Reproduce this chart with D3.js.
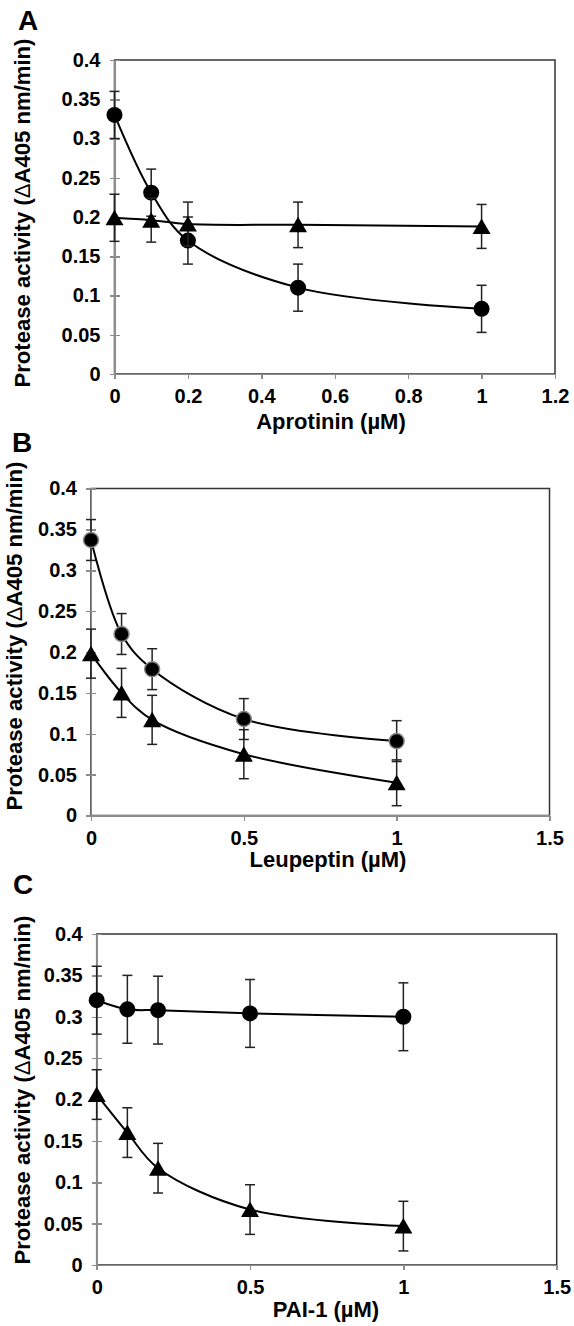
<!doctype html>
<html>
<head>
<meta charset="utf-8">
<script src="https://d3js.org/d3.v7.min.js"></script>
<style>
  body { margin: 0; background: #fff; }
  svg { display: block; font-family: "Liberation Sans", Arial, sans-serif; font-weight: bold; }
  .tick text { font-size: 20px; fill: #000; }
  .axis path, .axis line { stroke: #8c8c8c; stroke-width: 1.5px; shape-rendering: crispEdges; }
  .err { stroke: #222; stroke-width: 1.5px; fill: none; }
  .curve { stroke: #000; stroke-width: 2px; fill: none; }
</style>
</head>
<body>
<svg id="fig" width="574" height="1326"></svg>
<script>
// shared
var conc = [0, 0.1, 0.2, 0.5, 1];
var yTicks = [0, 0.05, 0.1, 0.15, 0.2, 0.25, 0.3, 0.35, 0.4];
var yTickLabels = ['0', '0.05', '0.1', '0.15', '0.2', '0.25', '0.3', '0.35', '0.4'];
var yTitle = 'Protease activity (';

// panel A - aprotinin
var xTicksA = [0, 0.2, 0.4, 0.6, 0.8, 1, 1.2];
var xTickLabelsA = ['0', '0.2', '0.4', '0.6', '0.8', '1', '1.2'];
var circA = [0.33, 0.231, 0.17, 0.11, 0.083];
var circErrA = [0.03, 0.03, 0.03, 0.03, 0.03];
var triA = [0.199, 0.196, 0.191, 0.19, 0.188];
var triErrA = [0.03, 0.028, 0.028, 0.029, 0.028];

// panel B - leupeptin
var xTicksBC = [0, 0.5, 1, 1.5];
var xTickLabelsBC = ['0', '0.5', '1', '1.5'];
var circB = [0.337, 0.222, 0.179, 0.118, 0.091];
var circErrB = [0.025, 0.025, 0.025, 0.025, 0.025];
var triB = [0.198, 0.15, 0.117, 0.075, 0.04];
var triErrB = [0.03, 0.03, 0.03, 0.03, 0.028];

// panel C - PAI-1
var circC = [0.32, 0.309, 0.308, 0.304, 0.3];
var circErrC = [0.041, 0.041, 0.041, 0.041, 0.041];
var triC = [0.206, 0.16, 0.117, 0.067, 0.047];
var triErrC = [0.03, 0.03, 0.03, 0.03, 0.03];

var svg = d3.select('#fig');

var panels = [
  {letter: 'A', lx: 18, ly: 30, left: 114.5, right: 555, top: 60, bottom: 374, xMax: 1.2,
   xTicks: xTicksA, xLabels: xTickLabelsA, xTitle: 'Aprotinin (\u00b5M)', xtx: 331, xty: 429,
   ytx: 30, yty: 213, circ: circA, circErr: circErrA, tri: triA, triErr: triErrA, ring: false},
  {letter: 'B', lx: 12, ly: 452, left: 91, right: 549.5, top: 488.5, bottom: 815.5, xMax: 1.5,
   xTicks: xTicksBC, xLabels: xTickLabelsBC, xTitle: 'Leupeptin (\u00b5M)', xtx: 328, xty: 867,
   ytx: 22, yty: 636, circ: circB, circErr: circErrB, tri: triB, triErr: triErrB, ring: true},
  {letter: 'C', lx: 13, ly: 894, left: 96.7, right: 556.7, top: 934, bottom: 1265, xMax: 1.5,
   xTicks: xTicksBC, xLabels: xTickLabelsBC, xTitle: 'PAI-1 (\u00b5M)', xtx: 326, xty: 1317,
   ytx: 30, yty: 1090, circ: circC, circErr: circErrC, tri: triC, triErr: triErrC, ring: false}
];

panels.forEach(function(p){ drawPanel(p); });

function drawPanel(p){
  var x = d3.scaleLinear().domain([0, p.xMax]).range([p.left, p.right]);
  var y = d3.scaleLinear().domain([0, 0.4]).range([p.bottom, p.top]);

  // panel letter
  svg.append('text').attr('x', p.lx).attr('y', p.ly)
    .style('font-size', '28px').text(p.letter);

  // plot area border
  svg.append('rect').attr('x', x(0)).attr('y', y(0.4))
    .attr('width', x(p.xMax) - x(0)).attr('height', y(0) - y(0.4))
    .attr('fill', 'none').attr('stroke', '#333').attr('stroke-width', 1.5);

  // axes
  var yAxis = d3.axisLeft(y).tickValues(yTicks).tickSizeInner(5).tickSizeOuter(0).tickPadding(9)
    .tickFormat(function(d, i){ return yTickLabels[i]; });
  var gy = svg.append('g').attr('class', 'axis').attr('transform', 'translate(' + x(0) + ',0)').call(yAxis);
  gy.selectAll('.tick line').attr('x1', 5);   // ticks cross the axis
  var xAxis = d3.axisBottom(x).tickValues(p.xTicks).tickSizeInner(5).tickSizeOuter(0).tickPadding(10)
    .tickFormat(function(d, i){ return p.xLabels[i]; });
  svg.append('g').attr('class', 'axis').attr('transform', 'translate(0,' + y(0) + ')').call(xAxis);
  svg.selectAll('.axis').attr('font-family', null).attr('font-size', null);

  // titles
  svg.append('text').attr('x', p.xtx).attr('y', p.xty).attr('text-anchor', 'middle')
    .style('font-size', '22px').text(p.xTitle);
  var yt = svg.append('text').attr('transform', 'translate(' + p.ytx + ',' + p.yty + ') rotate(-90)')
    .attr('text-anchor', 'middle').style('font-size', '22px')
    .attr('textLength', 349).attr('lengthAdjust', 'spacingAndGlyphs');
  yt.append('tspan').text(yTitle);
  yt.append('tspan').style('font-weight', 'normal').text('\u0394');
  yt.append('tspan').text('A405 nm/min)');

  var series = [
    {vals: p.circ, err: p.circErr, shape: 'circle'},
    {vals: p.tri, err: p.triErr, shape: 'tri'}
  ];

  var line = d3.line().x(function(d){ return x(d[0]); }).y(function(d){ return y(d[1]); })
    .curve(d3.curveCatmullRom.alpha(0.5));

  series.forEach(function(s){
    var pts = conc.map(function(c, i){ return [c, s.vals[i], s.err[i]]; });
    var g = svg.append('g');
    // error bars
    var eb = g.selectAll('g.eb').data(pts).enter().append('g').attr('class', 'err');
    eb.append('line').attr('x1', function(d){ return x(d[0]); }).attr('x2', function(d){ return x(d[0]); })
      .attr('y1', function(d){ return y(d[1] + d[2]); }).attr('y2', function(d){ return y(d[1] - d[2]); });
    eb.append('line').attr('x1', function(d){ return x(d[0]) - 5; }).attr('x2', function(d){ return x(d[0]) + 5; })
      .attr('y1', function(d){ return y(d[1] + d[2]); }).attr('y2', function(d){ return y(d[1] + d[2]); });
    eb.append('line').attr('x1', function(d){ return x(d[0]) - 5; }).attr('x2', function(d){ return x(d[0]) + 5; })
      .attr('y1', function(d){ return y(d[1] - d[2]); }).attr('y2', function(d){ return y(d[1] - d[2]); });
    // smoothed line
    g.append('path').attr('class', 'curve').attr('d', line(pts));
    // markers
    if (s.shape === 'circle') {
      g.selectAll('circle').data(pts).enter().append('circle')
        .attr('cx', function(d){ return x(d[0]); }).attr('cy', function(d){ return y(d[1]); })
        .attr('r', p.ring ? 7.5 : 8).attr('fill', '#000')
        .attr('stroke', p.ring ? '#888' : 'none').attr('stroke-width', 1.5);
    } else {
      g.selectAll('path.tri').data(pts).enter().append('path').attr('class', 'tri')
        .attr('transform', function(d){ return 'translate(' + x(d[0]) + ',' + y(d[1]) + ')'; })
        .attr('d', 'M0,-8L9,7.5L-9,7.5Z').attr('fill', '#000');
    }
  });
}
</script>
</body>
</html>
